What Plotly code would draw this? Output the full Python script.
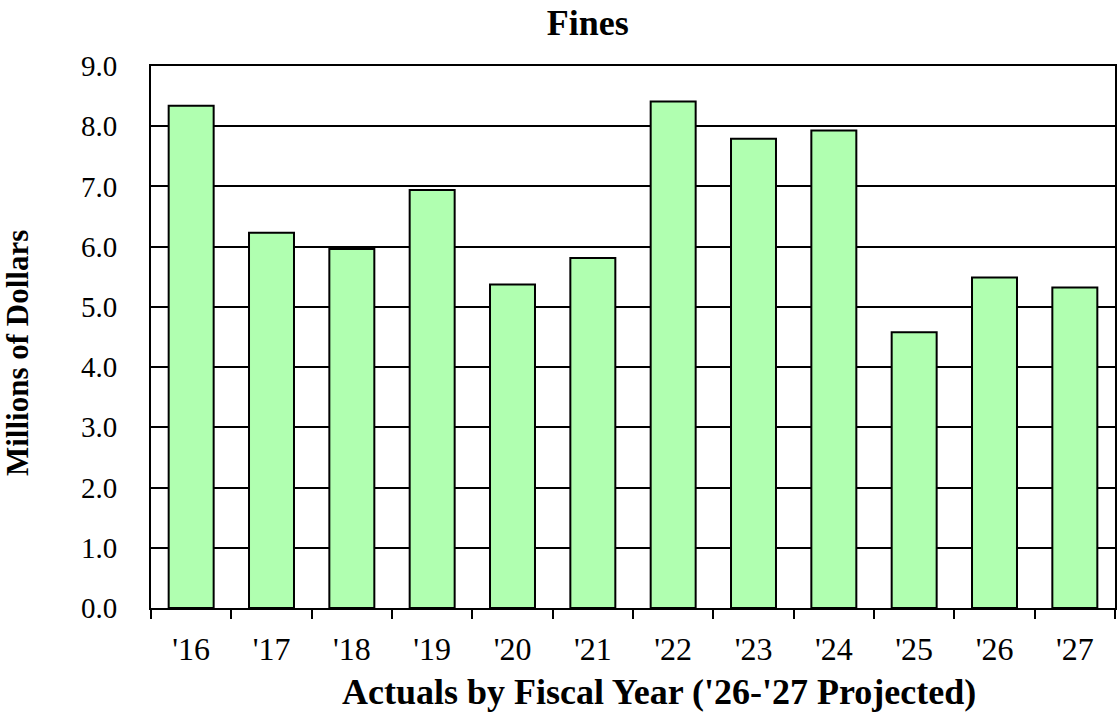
import plotly.graph_objects as go

categories = ["'16", "'17", "'18", "'19", "'20", "'21", "'22", "'23", "'24", "'25", "'26", "'27"]
values = [8.34, 6.23, 5.96, 6.94, 5.37, 5.81, 8.41, 7.79, 7.93, 4.58, 5.49, 5.32]
y_ticks = [0, 1, 2, 3, 4, 5, 6, 7, 8, 9]
y_tick_labels = ["0.0", "1.0", "2.0", "3.0", "4.0", "5.0", "6.0", "7.0", "8.0", "9.0"]

FONT = "Liberation Serif, Times New Roman, serif"

fig = go.Figure(go.Bar(
    x=categories, y=values,
    marker=dict(color="#B0FFB0", line=dict(color="#000000", width=2)),
    width=0.56,
))

fig.update_layout(
    width=1119, height=715,
    margin=dict(l=151, r=2, t=66, b=107),
    paper_bgcolor="white", plot_bgcolor="white",
    showlegend=False,
    font=dict(family=FONT, color="black", size=22),
    title=dict(text="<b>Fines</b>", x=0.453, xanchor="center", y=0.968, yanchor="middle",
               xref="paper", font=dict(family=FONT, size=36, color="black")),
    annotations=[
        dict(text="<b>Actuals by Fiscal Year ('26-'27 Projected)</b>",
             xref="paper", yref="paper", x=0.527, y=-0.155,
             xanchor="center", yanchor="middle", showarrow=False,
             font=dict(family=FONT, size=36, color="black")),
        dict(text="<b>Millions of Dollars</b>", textangle=-90,
             xref="paper", yref="paper", x=-0.1387, y=0.471,
             xanchor="center", yanchor="middle", showarrow=False,
             font=dict(family=FONT, size=31, color="black")),
    ],
)

fig.update_xaxes(
    type="category",
    showline=True, linecolor="black", linewidth=2, mirror=True,
    ticks="outside", tickson="boundaries", ticklen=9, tickwidth=2, tickcolor="black",
    ticklabelstandoff=12,
    tickfont=dict(family=FONT, size=32, color="black"),
    showgrid=False,
)

fig.update_yaxes(
    range=[0, 9], tickvals=y_ticks, ticktext=y_tick_labels,
    showline=True, linecolor="black", linewidth=2, mirror=True,
    showgrid=True, gridcolor="black", gridwidth=2,
    ticks="", ticklabelstandoff=26,
    tickfont=dict(family=FONT, size=29, color="black"),
    zeroline=False,
)

fig.write_html("out.html", config={"displayModeBar": False},
               post_script="document.body.style.margin='0';document.body.style.overflow='hidden';")
